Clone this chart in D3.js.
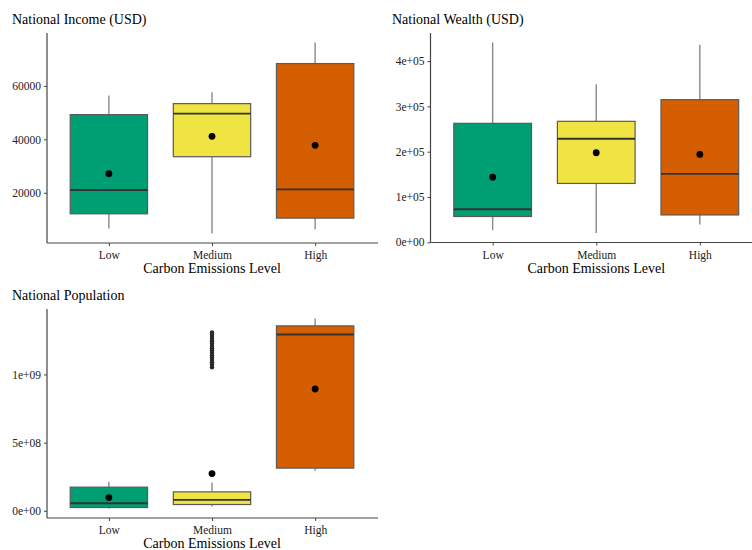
<!DOCTYPE html>
<html>
<head>
<meta charset="utf-8">
<script src="https://cdn.jsdelivr.net/npm/d3@7"></script>
<style>
  body { margin: 0; background: #fff; }
  svg text { font-family: "Liberation Serif", "DejaVu Serif", serif; }
</style>
</head>
<body>
<svg id="chart" width="752" height="550"></svg>
<script>
var LEVELS = ["Low", "Medium", "High"];
var COLORS = ["#009E73", "#F0E442", "#D55E00"];

// box stats per level: [lower whisker, q1, median, q3, upper whisker]
var INCOME_BOX = [
  [6640, 12110, 21000, 49240, 56360],
  [4760, 33490, 49610, 53360, 57640],
  [6370, 10500, 21260, 68360, 76230]
];
var INCOME_MEAN = [27110, 41130, 37750];
var INCOME_TICKS = [20000, 40000, 60000];
var INCOME_LABELS = ["20000", "40000", "60000"];

var WEALTH_BOX = [
  [26500, 56900, 73000, 262600, 440900],
  [20600, 129900, 228500, 267000, 348900],
  [39200, 60400, 151100, 314800, 435800]
];
var WEALTH_MEAN = [143800, 197600, 194000];
var WEALTH_TICKS = [0, 100000, 200000, 300000, 400000];
var WEALTH_LABELS = ["0e+00", "1e+05", "2e+05", "3e+05", "4e+05"];

var POP_BOX = [
  [1.7e7, 2.4e7, 5.6e7, 1.735e8, 2.14e8],
  [3.1e7, 4.6e7, 8.05e7, 1.39e8, 2.07e8],
  [2.93e8, 3.13e8, 1.293e9, 1.356e9, 1.41e9]
];
var POP_MEAN = [9.7e7, 2.73e8, 8.93e8];
var POP_OUTLIERS_MEDIUM = [1.053e9, 1.071e9, 1.089e9, 1.106e9, 1.124e9, 1.141e9, 1.158e9, 1.175e9,
  1.192e9, 1.209e9, 1.226e9, 1.243e9, 1.259e9, 1.275e9, 1.291e9, 1.307e9];
var POP_TICKS = [0, 5e8, 1e9];
var POP_LABELS = ["0e+00", "5e+08", "1e+09"];

var svg = d3.select("#chart");

function panel(opt) {
  var g = svg.append("g");
  var x = d3.scalePoint().domain(LEVELS).range([opt.left, opt.right]).padding(0.6);
  var step = x.step();
  var lo = d3.min(opt.box.map(function(b) { return b[0]; }).concat(opt.outliers.map(function(o) { return o.v; })));
  var hi = d3.max(opt.box.map(function(b) { return b[4]; }).concat(opt.outliers.map(function(o) { return o.v; })));
  var pad = (hi - lo) * 0.05;
  var y = d3.scaleLinear().domain([lo - pad, hi + pad]).range([opt.bottom, opt.top]);
  var bw = step * 0.75;

  LEVELS.forEach(function(lv, i) {
    var b = opt.box[i], cx = x(lv);
    g.append("line").attr("x1", cx).attr("x2", cx).attr("y1", y(b[0])).attr("y2", y(b[1]))
      .attr("stroke", "#8a8a8a").attr("stroke-width", 1.4);
    g.append("line").attr("x1", cx).attr("x2", cx).attr("y1", y(b[3])).attr("y2", y(b[4]))
      .attr("stroke", "#8a8a8a").attr("stroke-width", 1.4);
    g.append("rect").attr("x", cx - bw / 2).attr("width", bw)
      .attr("y", y(b[3])).attr("height", y(b[1]) - y(b[3]))
      .attr("fill", COLORS[i]).attr("stroke", "#5a5a5a").attr("stroke-width", 1.2);
    g.append("line").attr("x1", cx - bw / 2).attr("x2", cx + bw / 2).attr("y1", y(b[2])).attr("y2", y(b[2]))
      .attr("stroke", "#333").attr("stroke-width", 1.9);
  });

  g.selectAll(".outlier").data(opt.outliers).enter().append("circle")
    .attr("cx", function(d) { return x(d.lv); }).attr("cy", function(d) { return y(d.v); })
    .attr("r", 2.2).attr("fill", "#2a2a2a");

  g.selectAll(".mean").data(opt.mean).enter().append("circle")
    .attr("cx", function(d, i) { return x(LEVELS[i]); }).attr("cy", function(d) { return y(d); })
    .attr("r", 3.4).attr("fill", "#000");

  // axes
  var ax = g.append("g").attr("transform", "translate(0," + opt.bottom + ")")
    .call(d3.axisBottom(x).tickSize(3).tickPadding(5).tickSizeOuter(0));
  ax.select(".domain").attr("d", "M" + opt.left + ",0H" + opt.axisEnd).attr("stroke", "#444").attr("stroke-width", 1.2);
  ax.selectAll(".tick line").attr("stroke", "#444");
  ax.selectAll(".tick text").attr("font-size", "11.5px").attr("fill", "#222")
    .attr("font-family", "Liberation Serif");

  var ay = g.append("g").attr("transform", "translate(" + opt.left + ",0)")
    .call(d3.axisLeft(y).tickValues(opt.ticks).tickSize(3).tickPadding(3).tickSizeOuter(0)
      .tickFormat(function(d, i) { return opt.labels[i]; }));
  ay.select(".domain").attr("d", "M0," + opt.top + "V" + opt.bottom).attr("stroke", "#444").attr("stroke-width", 1.2);
  ay.selectAll(".tick line").attr("stroke", "#444");
  ay.selectAll(".tick text").attr("font-size", "11.5px").attr("fill", "#222")
    .attr("font-family", "Liberation Serif");

  g.append("text").attr("x", opt.titleX).attr("y", opt.top - 9).attr("font-size", "14px")
    .attr("fill", "#000").text(opt.title);
  g.append("text").attr("x", x("Medium")).attr("y", opt.bottom + 30).attr("text-anchor", "middle")
    .attr("font-size", "14px").attr("fill", "#000").text("Carbon Emissions Level");
}

panel({
  title: "National Income (USD)", titleX: 12,
  left: 47, right: 377, axisEnd: 378, top: 33, bottom: 243,
  box: INCOME_BOX, mean: INCOME_MEAN, outliers: [],
  ticks: INCOME_TICKS, labels: INCOME_LABELS
});

panel({
  title: "National Wealth (USD)", titleX: 392,
  left: 430.5, right: 762, axisEnd: 752, top: 33, bottom: 242.5,
  box: WEALTH_BOX, mean: WEALTH_MEAN, outliers: [],
  ticks: WEALTH_TICKS, labels: WEALTH_LABELS
});

panel({
  title: "National Population", titleX: 12,
  left: 47, right: 377, axisEnd: 378, top: 309, bottom: 518,
  box: POP_BOX, mean: POP_MEAN,
  outliers: POP_OUTLIERS_MEDIUM.map(function(v) { return { lv: "Medium", v: v }; }),
  ticks: POP_TICKS, labels: POP_LABELS
});
</script>
</body>
</html>
